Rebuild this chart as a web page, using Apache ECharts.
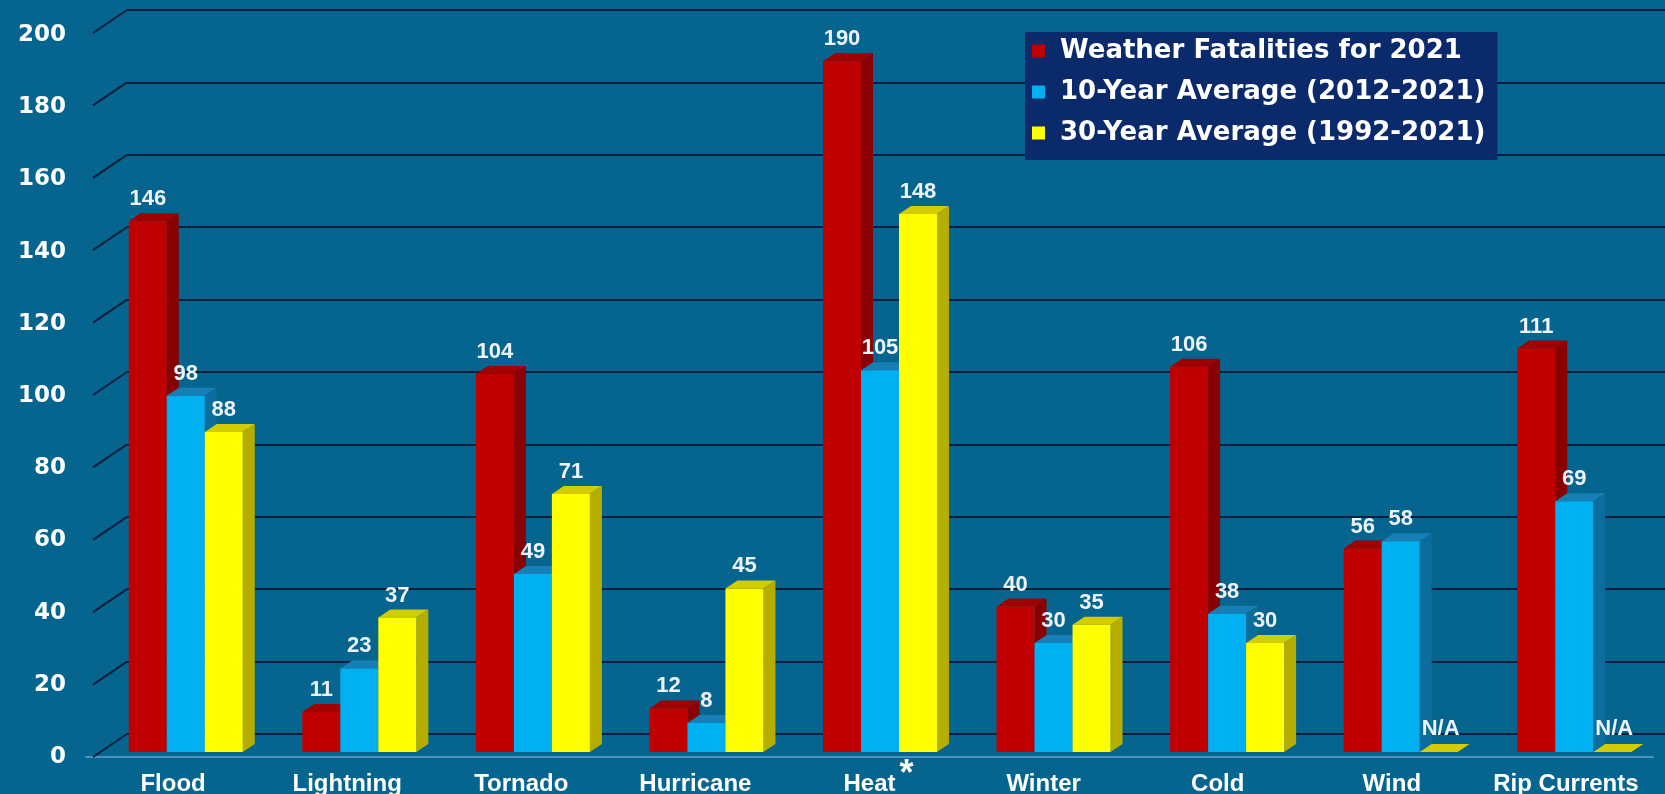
<!DOCTYPE html>
<html lang="en">
<head>
<meta charset="UTF-8">
<title>Weather Fatalities for 2021</title>
<script src="https://cdn.jsdelivr.net/npm/echarts@6/dist/echarts.min.js"></script>
<style>
  html, body { margin: 0; padding: 0; background: #05658f; }
  #main { width: 1665px; height: 794px; }
</style>
</head>
<body>
<div id="main"></div>
<script>
  // data
  const categories = ['Flood', 'Lightning', 'Tornado', 'Hurricane', 'Heat *', 'Winter', 'Cold', 'Wind', 'Rip Currents'];
  const fatalities2021 = [146, 11, 104, 12, 190, 40, 106, 56, 111];
  const avg10yr = [98, 23, 49, 8, 105, 30, 38, 58, 69];
  const avg30yr = [88, 37, 71, 45, 148, 35, 30, null, null];   // null = N/A
  const yTicks = [0, 20, 40, 60, 80, 100, 120, 140, 160, 180, 200];
  const seriesNames = ['Weather Fatalities for 2021', '10-Year Average (2012-2021)', '30-Year Average (1992-2021)'];

  const FONT = '"Liberation Sans", Arial, sans-serif';
  const WIDE = '"DejaVu Sans", sans-serif';
  const GRID_LINE = '#0b1f3d';
  const BAR_W = 38;                 // width of a bar's front face
  const DX = 12, DY = 8;            // fake 3D depth
  const faces = [
    { front: '#c00000', side: '#880000', top: '#a00000' },
    { front: '#00b0f0', side: '#0a6d9c', top: '#167fb5' },
    { front: '#ffff00', side: '#b5ad00', top: '#d2cc00' }
  ];

  function barSeries(idx, values) {
    return {
      name: seriesNames[idx],
      type: 'custom',
      xAxisIndex: 3,
      yAxisIndex: 2,
      clip: false,
      itemStyle: { color: faces[idx].front },
      data: values.map((v, i) => [i, v === null ? 0 : v]),
      renderItem: function (params, api) {
        const f = faces[idx];
        const isNA = values[params.dataIndex] === null;
        const base = api.coord([api.value(0), 0]);
        const top = api.coord([api.value(0), api.value(1)]);
        const x0 = base[0] + (idx - 1.5) * BAR_W;
        const x1 = x0 + BAR_W;
        const yt = top[1], yb = base[1];
        const children = [];
        children.push({
          type: 'polygon',
          shape: { points: [[x0, yt], [x0 + DX, yt - DY], [x1 + DX, yt - DY], [x1, yt]] },
          style: { fill: f.top }
        });
        if (!isNA) {
          children.push({
            type: 'polygon',
            shape: { points: [[x1, yt], [x1 + DX, yt - DY], [x1 + DX, yb - DY], [x1, yb]] },
            style: { fill: f.side }
          });
          children.push({
            type: 'rect',
            shape: { x: x0, y: yt, width: BAR_W, height: yb - yt },
            style: { fill: f.front }
          });
        }
        children.push({
          type: 'text',
          z2: 100,
          style: {
            text: isNA ? 'N/A' : String(api.value(1)),
            x: x0 + BAR_W / 2 + (isNA ? 2 : 0),
            y: yt - DY - (isNA ? 4 : 3),
            align: 'center',
            verticalAlign: 'bottom',
            fill: '#eef4fb',
            font: 'bold 22px ' + FONT
          }
        });
        return { type: 'group', children: children };
      }
    };
  }

  const chart = echarts.init(document.getElementById('main'));
  const option = {
    backgroundColor: '#05658f',
    animation: false,
    grid: [
      { left: 127, right: 0, top: 10, bottom: 60, outerBoundsMode: 'none' },    // back wall
      { left: 86, right: 12, top: 35, bottom: 37, outerBoundsMode: 'none' },    // front edge, axis labels
      { left: 99, right: 4, top: 25, bottom: 42, outerBoundsMode: 'none' }      // bars
    ],
    xAxis: [
      { gridIndex: 0, type: 'value', min: 0, max: 1, show: false },
      {
        gridIndex: 1, type: 'category', data: categories, position: 'bottom',
        axisLine: { lineStyle: { color: '#4a93c0', width: 2 } },
        axisTick: { show: false },
        axisLabel: {
          interval: 0,
          color: '#ffffff', fontFamily: FONT, fontWeight: 'bold', fontSize: 24, margin: 15,
          formatter: v => v.replace(' *', '')
        }
      },
      {
        // raised footnote asterisk next to "Heat"
        gridIndex: 1, type: 'category', data: categories, position: 'bottom',
        axisLine: { show: false }, axisTick: { show: false },
        axisLabel: {
          interval: 0, margin: 0,
          formatter: v => v.endsWith('*') ? '{s|*}' : '',
          rich: { s: { fontFamily: FONT, fontSize: 36, fontWeight: 'bold', color: '#ffffff', lineHeight: 36, padding: [0, 0, 0, 74] } }
        }
      },
      { gridIndex: 2, type: 'category', data: categories, show: false }
    ],
    yAxis: [
      {
        gridIndex: 0, type: 'value', min: 0, max: 200, interval: 20,
        axisLine: { show: false }, axisTick: { show: false }, axisLabel: { show: false },
        splitLine: { lineStyle: { color: GRID_LINE, width: 2 } }
      },
      {
        gridIndex: 1, type: 'value', min: 0, max: 200, interval: 20,
        axisLine: { show: false }, axisTick: { show: false }, splitLine: { show: false },
        axisLabel: { color: '#ffffff', fontFamily: WIDE, fontWeight: 'bold', fontSize: 23, margin: 20 }
      },
      { gridIndex: 2, type: 'value', min: 0, max: 200, show: false }
    ],
    legend: {
      orient: 'vertical',
      left: 1025,
      top: 32,
      padding: [6, 12, 14, 7],
      itemGap: 15,
      itemWidth: 13,
      itemHeight: 13,
      backgroundColor: '#0b2a6c',
      formatter: name => '{t|' + name + '}',
      textStyle: {
        color: '#ffffff', fontFamily: WIDE, fontWeight: 'bold', fontSize: 26,
        rich: { t: { color: '#ffffff', fontFamily: WIDE, fontWeight: 'bold', fontSize: 26, padding: [0, 0, 0, 10] } }
      },
      data: seriesNames.map(n => ({ name: n, icon: 'rect' }))
    },
    series: [
      // slanted tick connectors from the labels to the back wall
      {
        type: 'custom',
        xAxisIndex: 0,
        yAxisIndex: 0,
        clip: false,
        silent: true,
        data: yTicks.map(v => [0, v]),
        renderItem: function (params, api) {
          const p = api.coord([0, api.value(1)]);
          return {
            type: 'line',
            shape: { x1: p[0] - 34, y1: p[1] + 23, x2: p[0], y2: p[1] },
            style: { stroke: GRID_LINE, lineWidth: 2 }
          };
        }
      },
      barSeries(0, fatalities2021),
      barSeries(1, avg10yr),
      barSeries(2, avg30yr)
    ]
  };
  chart.setOption(option);
</script>
</body>
</html>
